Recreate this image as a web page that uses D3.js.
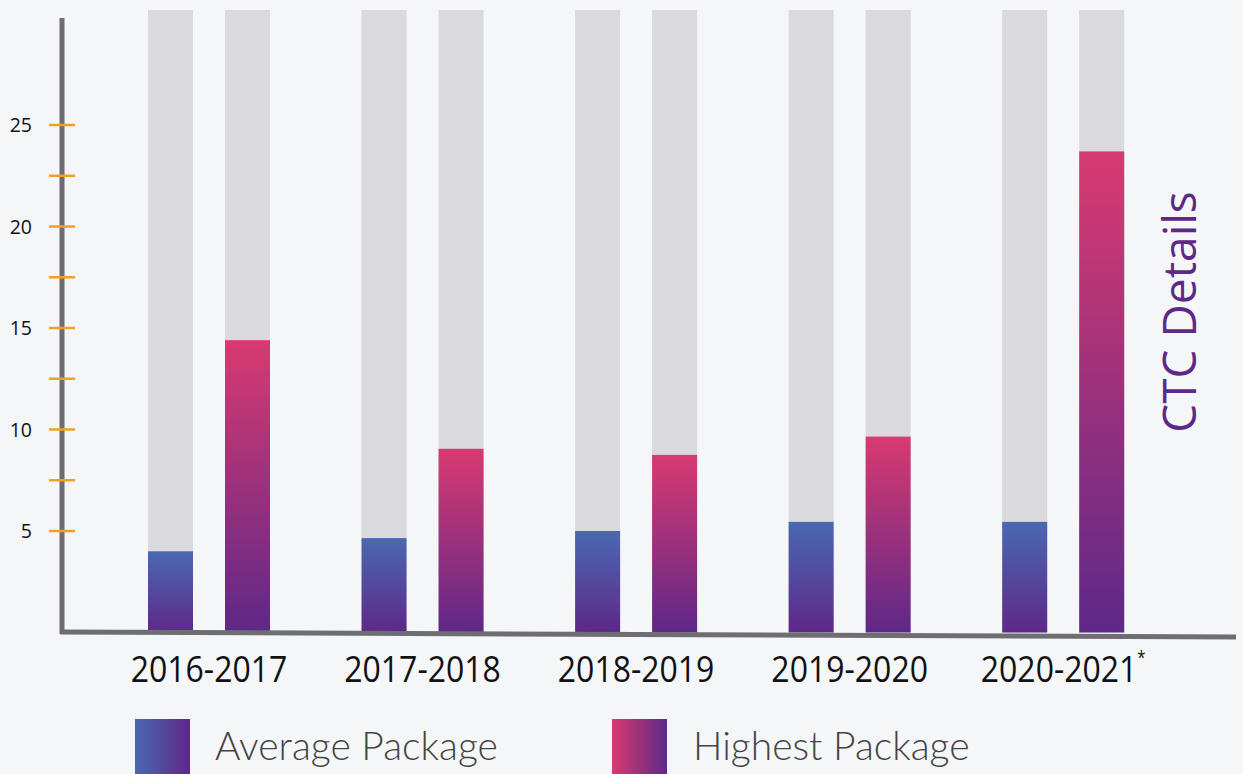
<!DOCTYPE html>
<html><head><meta charset="utf-8">
<script src="https://cdn.jsdelivr.net/npm/d3@7"></script>
<style>html,body{margin:0;padding:0;background:#f4f6f8;}svg{display:block;}</style>
</head><body>
<svg id="c" width="1243" height="774"></svg>
<script>
const categories = ["2016-2017","2017-2018","2018-2019","2019-2020","2020-2021"];
const averagePackage = [4.0, 4.65, 5.0, 5.45, 5.45];
const highestPackage = [14.4, 9.05, 8.75, 9.65, 23.7];
const tickValues = [5,10,15,20,25];
const minorTicks = [7.5,12.5,17.5,22.5];
const seriesNames = ["Average Package","Highest Package"];

const svg = d3.select("#c");
const defs = svg.append("defs");
function grad(id, c1, c2, horiz){
  const g = defs.append("linearGradient").attr("id",id).attr("x1",0).attr("y1",0)
    .attr("x2",horiz?1:0).attr("y2",horiz?0:1);
  g.append("stop").attr("offset","0%").attr("stop-color",c1);
  g.append("stop").attr("offset","100%").attr("stop-color",c2);
}
grad("gAvg","#4a68b2","#5e2888",false);
grad("gHigh","#d83a70","#5e2888",false);
grad("lAvg","#4a68b2","#5e2888",true);
grad("lHigh","#d83a70","#5e2888",true);

const y = d3.scaleLinear().domain([0,25]).range([632.5,125]);
const x0 = d3.scaleBand().domain(categories).range([102.25,1170]).paddingInner(0).paddingOuter(0);
const x1 = d3.scaleBand().domain(seriesNames).range([45.75,167.75]).paddingInner(0.4156).paddingOuter(0);

const groups = svg.append("g").selectAll("g").data(categories).join("g")
  .attr("transform", d => `translate(${x0(d)},0)`);
groups.each(function(cat,i){
  const g = d3.select(this);
  const vals = [averagePackage[i], highestPackage[i]];
  seriesNames.forEach((s,j)=>{
    g.append("rect").attr("x", x1(s)).attr("width", x1.bandwidth())
      .attr("y", 10).attr("height", y(0)-10).attr("fill","#d9d9de");
    g.append("rect").attr("x", x1(s)).attr("width", x1.bandwidth())
      .attr("y", y(vals[j])).attr("height", y(0)-y(vals[j]))
      .attr("fill", j===0 ? "url(#gAvg)" : "url(#gHigh)");
  });
});

svg.append("line").attr("x1",62).attr("x2",62).attr("y1",18).attr("y2",634)
  .attr("stroke","#6e6d72").attr("stroke-width",5);
svg.append("line").attr("x1",60).attr("x2",1236).attr("y1",632).attr("y2",637)
  .attr("stroke","#6e6d72").attr("stroke-width",5);

const ya = svg.append("g");
ya.selectAll("line").data(tickValues.concat(minorTicks)).join("line")
  .attr("x1",49).attr("x2",75).attr("y1",d=>y(d)).attr("y2",d=>y(d))
  .attr("stroke","#f2a024").attr("stroke-width",2.5);
ya.selectAll("text").data(tickValues).join("text")
  .attr("x",32).attr("y",d=>y(d)).attr("dy","0.36em").attr("text-anchor","end")
  .attr("font-family","Open Sans, sans-serif").attr("font-size",19.5).attr("fill","#111")
  .text(d=>d);

const lab = svg.append("g").selectAll("text").data(categories).join("text")
  .attr("transform", d => `translate(${x0(d) + 106.75},682) scale(1,1.15)`)
  .attr("text-anchor","middle").attr("font-family","Open Sans, sans-serif")
  .attr("font-size",32).attr("fill","#111");
lab.each(function(d,i){
  const t = d3.select(this);
  t.append("tspan").text(d);
  if(i===categories.length-1){
    t.append("tspan").attr("dy",-16).attr("font-size",15).text("*");
  }
});

svg.append("text").attr("transform","translate(1196,312) rotate(-90)")
  .attr("text-anchor","middle").attr("font-family","Open Sans, sans-serif")
  .attr("font-size",46).attr("fill","#5e2888").text("CTC Details");

const legend = [{n:seriesNames[0], g:"url(#lAvg)", x:135, tx:215},{n:seriesNames[1], g:"url(#lHigh)", x:612, tx:693}];
const lg = svg.append("g").selectAll("g").data(legend).join("g");
lg.append("rect").attr("x",d=>d.x).attr("y",719).attr("width",55).attr("height",60).attr("fill",d=>d.g);
lg.append("text").attr("x",d=>d.tx).attr("y",760).attr("font-family","Lato, sans-serif").attr("font-weight",300)
  .attr("font-size",39).attr("fill","#444").text(d=>d.n);
</script>
</body></html>
